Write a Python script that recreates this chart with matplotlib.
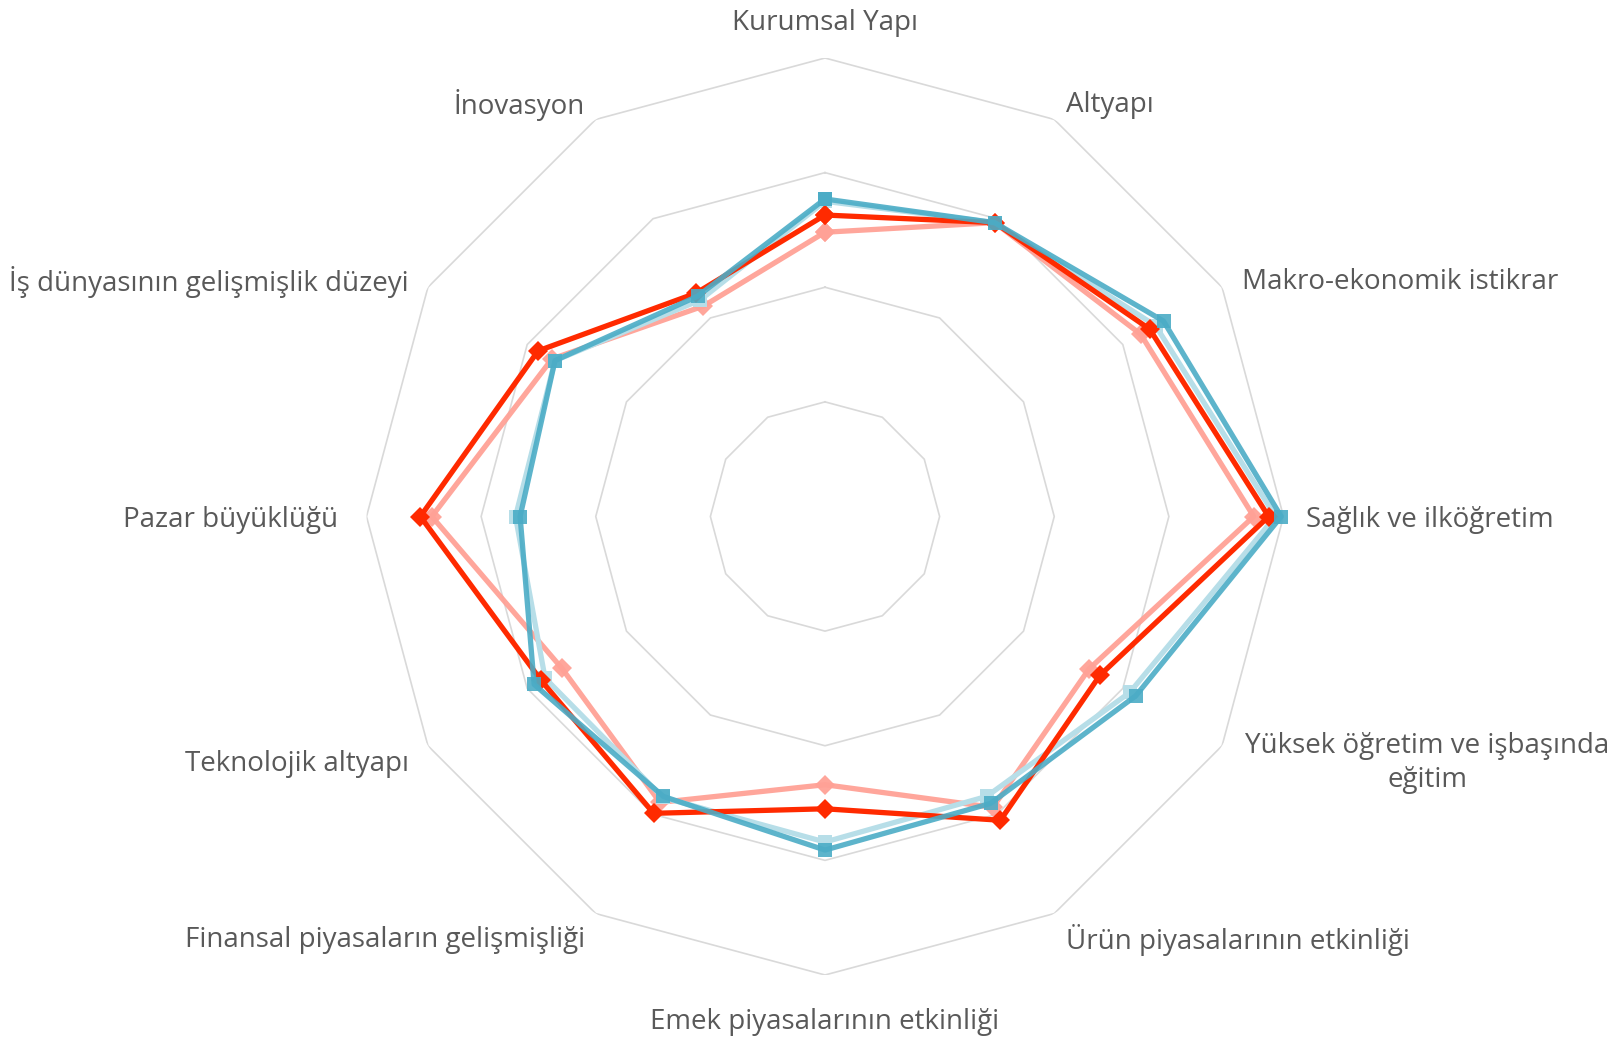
import numpy as np
import matplotlib
matplotlib.use("Agg")
import matplotlib.pyplot as plt

plt.rcParams['font.family'] = ['Open Sans', 'DejaVu Sans']

# kategoriler (saat yönünde, tepeden)
categories = ["Kurumsal Yapı", "Altyapı", "Makro-ekonomik istikrar",
              "Sağlık ve ilköğretim", "Yüksek öğretim ve işbaşında\neğitim",
              "Ürün piyasalarının etkinliği", "Emek piyasalarının etkinliği",
              "Finansal piyasaların gelişmişliği", "Teknolojik altyapı",
              "Pazar büyüklüğü", "İş dünyasının gelişmişlik düzeyi", "İnovasyon"]

# skorlar (1-7 ölçeği)
red_now   = [4.63, 4.96, 5.27, 5.87, 4.77, 5.06, 4.55, 4.99, 4.86, 5.53, 4.89, 4.25]
red_prev  = [4.48, 4.96, 5.18, 5.74, 4.66, 4.93, 4.34, 4.88, 4.65, 5.43, 4.75, 4.12]
blue_now  = [4.77, 4.96, 5.41, 5.98, 5.13, 4.89, 4.91, 4.82, 4.93, 4.66, 4.72, 4.22]
blue_prev = [4.75, 4.96, 5.33, 5.93, 5.07, 4.82, 4.84, 4.83, 4.82, 4.70, 4.72, 4.18]

r_min, r_max = 2, 6
rings = [3, 4, 5, 6]

W, H = 1623, 1045
cx, cy, R = 825, 516.5, 458.5

fig = plt.figure(figsize=(W / 100, H / 100), dpi=100)
ax = fig.add_axes([(cx - R) / W, (H - cy - R) / H, 2 * R / W, 2 * R / H], polar=True)
ax.set_theta_zero_location('N')
ax.set_theta_direction(-1)
ax.set_ylim(r_min, r_max)
ax.grid(False)
ax.set_xticks([])
ax.set_yticks([])
ax.spines['polar'].set_visible(False)
ax.patch.set_alpha(0)

n = len(categories)
theta = np.linspace(0, 2 * np.pi, n, endpoint=False)
theta_c = np.append(theta, theta[0])

for rv in rings:
    ax.plot(theta_c, [rv] * (n + 1), color='#D9D9D9', lw=1.2, zorder=1)

def close(v):
    return list(v) + [v[0]]

ax.plot(theta_c, close(red_prev), color='#FFA196', lw=3.8, marker='D', ms=10,
        mew=0, alpha=0.95, zorder=2, clip_on=False)
ax.plot(theta_c, close(blue_prev), color='#B7DEE8', lw=3.8, marker='s', ms=10,
        mew=0, zorder=3, clip_on=False)
ax.plot(theta_c, close(red_now), color='#FF2A00', lw=3.8, marker='D', ms=10.5,
        mew=0, zorder=4, clip_on=False)
ax.plot(theta_c, close(blue_now), color='#4BACC6', lw=3.8, marker='s', ms=10,
        mew=0, alpha=0.9, zorder=5, clip_on=False)

# etiket konumları (piksel ofset)
offsets = [(0, 35, 'center'), (12, 14, 'left'), (20, 5.5, 'left'), (23, -3, 'left'),
           (23, -17, 'left'), (12, -26.5, 'left'), (0, -47.5, 'center'),
           (-11, -26.5, 'right'), (-19, -18, 'right'), (-28.5, -3, 'right'),
           (-19, 5.5, 'right'), (-11, 14, 'right')]

for th, lab, (dx, dy, ha) in zip(theta, categories, offsets):
    ax.annotate(lab, xy=(th, r_max), xytext=(dx, dy), textcoords='offset pixels',
                ha=ha, va='center', multialignment='center', fontsize=20,
                linespacing=1.3, color='#595959', annotation_clip=False)

fig.savefig('out.png', dpi=100)
